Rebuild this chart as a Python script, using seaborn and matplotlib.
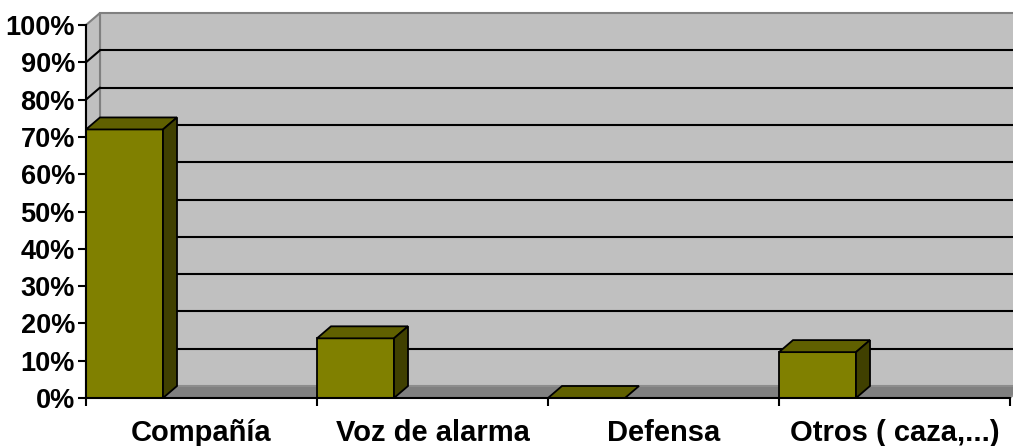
import numpy as np
import pandas as pd
import seaborn as sns
import matplotlib
matplotlib.use("Agg")
import matplotlib.pyplot as plt
from matplotlib.patches import Polygon
from matplotlib.ticker import PercentFormatter, FixedLocator

# data
categories = ["Compañía", "Voz de alarma", "Defensa", "Otros ( caza,...)"]
shares = [0.72, 0.16, 0.0, 0.123]
y_ticks = [0.0, 0.1, 0.2, 0.3, 0.4, 0.5, 0.6, 0.7, 0.8, 0.9, 1.0]

df = pd.DataFrame({"cat": categories, "share": shares})

sns.set_style("white")
plt.rcParams["font.family"] = ["Liberation Sans", "DejaVu Sans"]
plt.rcParams["font.weight"] = "bold"
plt.rcParams["text.color"] = "black"
plt.rcParams["xtick.color"] = "black"
plt.rcParams["ytick.color"] = "black"
plt.rcParams["xtick.labelcolor"] = "black"
plt.rcParams["ytick.labelcolor"] = "black"

W, H = 1013, 446
fig = plt.figure(figsize=(W / 100, H / 100), dpi=100)
# front plane: x 86..1010, y 398..25 (pixels)
ax = fig.add_axes([86 / W, (H - 398) / H, 924 / W, 373 / H])

face = "#808000"
top_c = "#606000"
side_c = "#404000"
wall_c = "#c0c0c0"
floor_c = "#808080"
edge_gray = "#808080"

sns.barplot(data=df, x="cat", y="share", color=face, width=1 / 3,
            saturation=1, edgecolor="black", linewidth=1.3, ax=ax, zorder=5)
bars = list(ax.containers[0])

x0, x1 = -0.5, 3.5
ax.set_xlim(x0, x1)
ax.set_ylim(0, 1)

# depth of the 3-D effect in data units
dx = 14 / 231
dy = 12 / 373

# back wall, left wall, floor
ax.add_patch(Polygon([(x0 + dx, dy), (x1 + 2 * dx, dy), (x1 + 2 * dx, 1 + dy), (x0 + dx, 1 + dy)],
                     closed=True, facecolor=wall_c, edgecolor=edge_gray, lw=1.5,
                     clip_on=False, zorder=0))
ax.add_patch(Polygon([(x0, 0), (x0 + dx, dy), (x0 + dx, 1 + dy), (x0, 1)],
                     closed=True, facecolor=wall_c, edgecolor=edge_gray, lw=1.5,
                     clip_on=False, zorder=0.5))
ax.add_patch(Polygon([(x0, 0), (x1, 0), (x1 + dx, dy), (x0 + dx, dy)],
                     closed=True, facecolor=floor_c, edgecolor="#909090", lw=1.2,
                     clip_on=False, zorder=1))

# gridlines on back and left walls
for t in y_ticks[1:-1]:
    ax.plot([x0 + dx, x1 + 2 * dx], [t + dy, t + dy], color="black", lw=1.5,
            clip_on=False, zorder=2)
    ax.plot([x0, x0 + dx], [t, t + dy], color="black", lw=1.5,
            clip_on=False, zorder=2)

# move bars to the left third of each category and add the 3-D faces
for p in bars:
    p.set_x(p.get_x() - 1 / 3)
    bx0 = p.get_x()
    bx1 = bx0 + p.get_width()
    h = p.get_height()
    ax.add_patch(Polygon([(bx0, h), (bx1, h), (bx1 + dx, h + dy), (bx0 + dx, h + dy)],
                         closed=True, facecolor=top_c, edgecolor="black", lw=1.3,
                         clip_on=False, zorder=6))
    if h > 0:
        ax.add_patch(Polygon([(bx1, 0), (bx1 + dx, dy), (bx1 + dx, h + dy), (bx1, h)],
                             closed=True, facecolor=side_c, edgecolor="black", lw=1.3,
                             clip_on=False, zorder=6))

# axes and ticks
for s in ["top", "right"]:
    ax.spines[s].set_visible(False)
for s in ["left", "bottom"]:
    ax.spines[s].set_visible(True)
    ax.spines[s].set_color("black")
    ax.spines[s].set_linewidth(1.5)
    ax.spines[s].set_zorder(8)

ax.yaxis.set_major_locator(FixedLocator(y_ticks))
ax.yaxis.set_major_formatter(PercentFormatter(1, decimals=0))
ax.tick_params(axis="y", which="major", direction="out", length=6, width=1.5,
               color="black", labelcolor="black", left=True, labelsize=19.5, pad=2)

ax.set_xticks(np.arange(-0.5, 4.0, 1.0))
ax.set_xticklabels([""] * 5)
ax.set_xticks(np.arange(0, 4), minor=True)
ax.set_xticklabels(categories, minor=True, fontsize=21, fontweight="bold", color="black")
ax.tick_params(axis="x", which="major", direction="out", length=6, width=1.5,
               color="black", bottom=True)
ax.tick_params(axis="x", which="minor", length=0, pad=15)
for lbl in ax.get_yticklabels():
    lbl.set_fontweight("bold")

ax.set_xlabel("")
ax.set_ylabel("")
ax.patch.set_visible(False)

fig.savefig("out.png", dpi=100)
